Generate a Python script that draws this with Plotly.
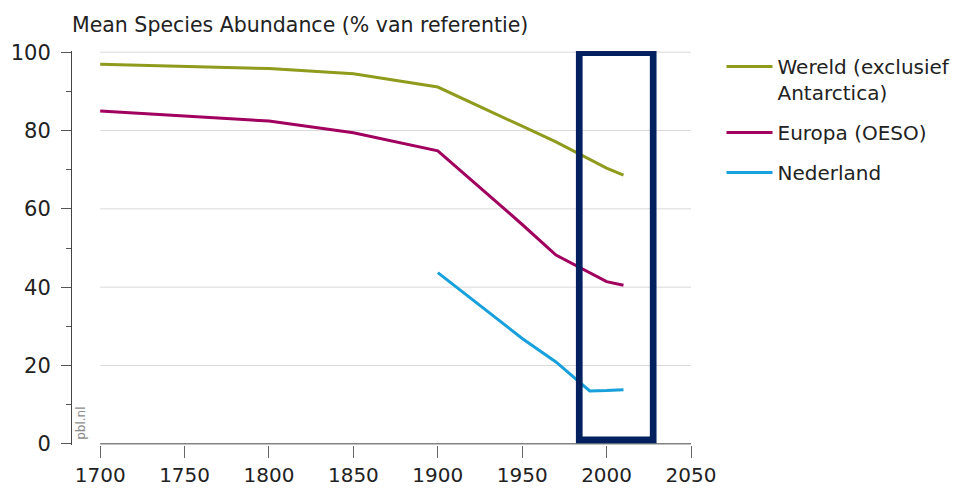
import plotly.graph_objects as go

# ---- data ----
wereld_years = [1700, 1800, 1850, 1900, 1950, 1970, 2000, 2010]
wereld_msa = [96.9, 95.8, 94.5, 91.1, 81.1, 77.1, 70.4, 68.6]

europa_years = [1700, 1800, 1850, 1900, 1950, 1970, 2000, 2010]
europa_msa = [85.0, 82.4, 79.4, 74.8, 56.0, 48.2, 41.4, 40.5]

nederland_years = [1900, 1950, 1970, 1990, 2000, 2010]
nederland_msa = [43.7, 26.9, 20.9, 13.5, 13.6, 13.8]

x_ticks = [1700, 1750, 1800, 1850, 1900, 1950, 2000, 2050]
y_ticks = [0, 20, 40, 60, 80, 100]
y_minor = [10, 30, 50, 70, 90]
grid_levels = [20, 40, 60, 80, 100]

# highlighted period (box)
box_x = [1983.8, 2027.6]
box_y = [1.0, 99.9]

FONT = "DejaVu Sans"
TXT = "#222222"
FS = 20

# page body has an 8px margin -> figure drawn 8px in from top-left
W, H = 957, 481
L, T, R, B = 64, 42.5, 274, 43.8
PW = W - L - R
PH = H - T - B

fig = go.Figure()
fig.add_trace(go.Scatter(x=wereld_years, y=wereld_msa, mode="lines",
                         name="Wereld (exclusief<br>Antarctica)", legendgroup="w",
                         line=dict(color="#8f9b1c", width=3)))
fig.add_trace(go.Scatter(x=europa_years, y=europa_msa, mode="lines",
                         name="Europa (OESO)", legendgroup="e",
                         line=dict(color="#a1005f", width=3)))
fig.add_trace(go.Scatter(x=nederland_years, y=nederland_msa, mode="lines",
                         name="Nederland", legendgroup="n",
                         line=dict(color="#17a0dc", width=3)))

shapes = []
for g in grid_levels:
    shapes.append(dict(type="line", xref="x", yref="y", x0=x_ticks[0], x1=x_ticks[-1],
                       y0=g, y1=g, line=dict(color="#dadada", width=1), layer="below"))
shapes.append(dict(type="line", xref="x", yref="y", x0=x_ticks[0], x1=x_ticks[-1],
                   y0=0, y1=0, line=dict(color="#444444", width=1), layer="above"))
shapes.append(dict(type="rect", xref="x", yref="y", x0=box_x[0], x1=box_x[1],
                   y0=box_y[0], y1=box_y[1], line=dict(color="#03215e", width=6.7),
                   fillcolor="rgba(0,0,0,0)", layer="above"))

fig.update_layout(
    width=W, height=H,
    margin=dict(l=L, r=R, t=T, b=B, autoexpand=False),
    paper_bgcolor="white", plot_bgcolor="white",
    font=dict(family=FONT, size=FS, color=TXT),
    title=dict(text="Mean Species Abundance (% van referentie)",
               x=0, xref="paper", xanchor="left",
               y=1 - 17 / H, yref="container", yanchor="middle",
               font=dict(family=FONT, size=20.5, color=TXT)),
    showlegend=True,
    legend=dict(x=(713.5 - L) / PW, xanchor="left",
                y=(H - B - 38.5) / PH, yanchor="top",
                font=dict(family=FONT, size=FS, color=TXT),
                bgcolor="rgba(0,0,0,0)", valign="top", tracegroupgap=11,
                itemwidth=46),
    shapes=shapes,
    annotations=[dict(text="pbl.nl", xref="paper", yref="paper",
                      x=(81 - 8 - L) / PW, y=(H - B - (424 - 8)) / PH,
                      xanchor="center", yanchor="middle",
                      textangle=-90, showarrow=False,
                      font=dict(family=FONT, size=12, color="#8a8a8a"))],
)

fig.update_xaxes(range=[1683.3, 2050], tickvals=x_ticks, ticks="outside", ticklen=12,
                 tickcolor="#666666", tickwidth=1, showline=False, showgrid=False,
                 zeroline=False, ticklabelstandoff=0, tickfont=dict(size=20))
fig.update_yaxes(range=[-0.3, 100.3], tickvals=y_ticks, ticks="outside", ticklen=10,
                 tickcolor="#555555", tickwidth=1, showline=True, linecolor="#444444",
                 linewidth=1, showgrid=False, zeroline=False, ticklabelstandoff=6,
                 tickfont=dict(size=21),
                 minor=dict(tickvals=y_minor, ticks="outside", ticklen=5,
                            tickcolor="#555555", showgrid=False))

fig.write_html("out.html")
